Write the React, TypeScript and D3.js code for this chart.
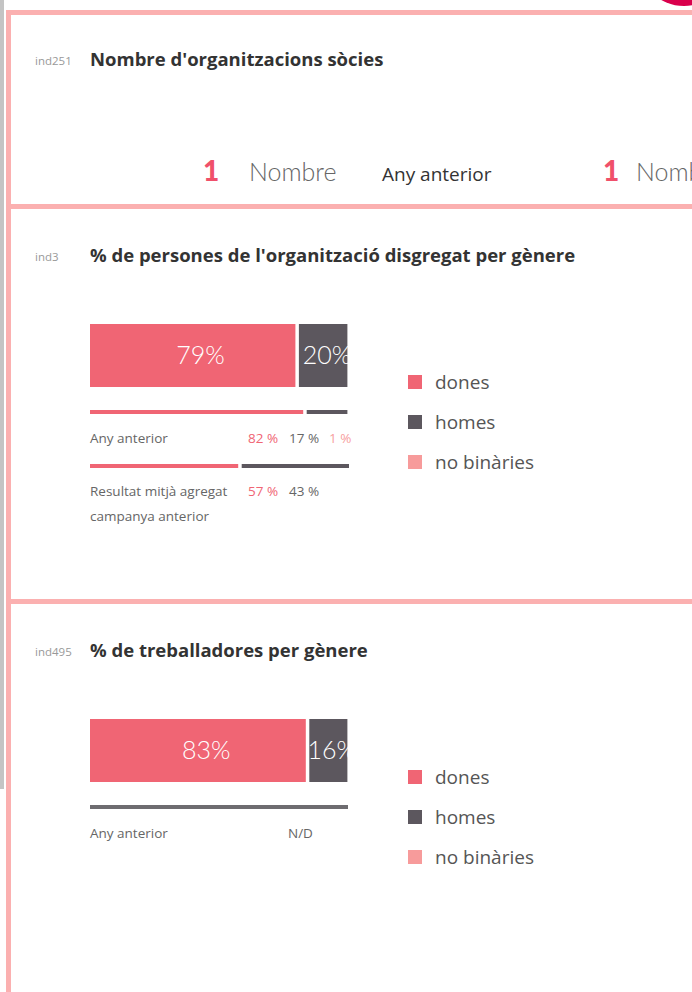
import React from "react";
import * as d3 from "d3";

const W = 692;
const H = 992;

const categories = ["dones", "homes", "no binàries"];
const catColors = ["#f06574", "#5c575e", "#f79b9b"];
const valueColors = ["#f06574", "#666666", "#f7a0a0"];

const ind251Title = "Nombre d'organitzacions sòcies";
const ind251Value = [1, 1];
const ind251Labels = ["Nombre", "Any anterior"];

const ind3Title = "% de persones de l'organització disgregat per gènere";
const ind3Current = [79, 20, 1];
const ind3Previous = [82, 17, 1];
const ind3Aggregate = [57, 43, 0];

const ind495Title = "% de treballadores per gènere";
const ind495Current = [83, 16, 1];

const FONT = "'Open Sans', Lato, sans-serif";
const LIGHT = "Lato, 'Open Sans', sans-serif";

const x = d3.scaleLinear().domain([0, 100]).range([90, 350]);
const xl = d3.scaleLinear().domain([0, 100]).range([0, 280]);
const GAP = 3.5;
const CLIP_R = 349;

function segments(vals: number[]) {
  let cum = 0;
  return vals.map((v, i) => {
    const start = x(cum) + (i > 0 ? GAP : 0);
    const end = x(cum + v);
    const s = { i, v, start, end, cum };
    cum += v;
    return s;
  });
}

function StackBar({ y, vals, id }: { y: number; vals: number[]; id: string }) {
  const segs = segments(vals);
  return (
    <g clipPath={`url(#${id})`}>
      {segs.map((s) =>
        s.v > 0 && s.end > s.start ? (
          <rect key={s.i} x={s.start} y={y} width={s.end - s.start} height={63} fill={catColors[s.i]} />
        ) : null
      )}
      {segs.map((s) =>
        s.v >= 5 ? (
          <text
            key={"t" + s.i}
            x={s.start + xl(s.v) / 2}
            y={y + 40}
            textAnchor="middle"
            fill="#ffffff"
            fontSize={25}
            fontWeight={300}
            fontFamily={LIGHT}
          >
            {s.v}%
          </text>
        ) : null
      )}
    </g>
  );
}

function ThinBar({ y, vals, id }: { y: number; vals: number[]; id: string }) {
  const segs = segments(vals);
  return (
    <g clipPath={`url(#${id})`}>
      {segs.map((s) =>
        s.v > 0 && s.end > s.start ? (
          <rect key={s.i} x={s.start} y={y} width={s.end - s.start} height={4} fill={catColors[s.i]} />
        ) : null
      )}
    </g>
  );
}

const valueCols = [248, 289, 329];

function ValueLabels({ y, vals }: { y: number; vals: number[] }) {
  return (
    <g>
      {vals.map((v, i) =>
        v > 0 ? (
          <text key={i} x={valueCols[i]} y={y} fill={valueColors[i]} fontSize={13.5} fontFamily={FONT}>
            {v} %
          </text>
        ) : null
      )}
    </g>
  );
}

function Legend({ y }: { y: number }) {
  return (
    <g>
      {categories.map((c, i) => (
        <g key={c} transform={`translate(408, ${y + i * 40})`}>
          <rect x={0} y={-7} width={14} height={14} fill={catColors[i]} />
          <text x={27} y={7} fill="#555555" fontSize={19} fontFamily={FONT}>
            {c}
          </text>
        </g>
      ))}
    </g>
  );
}

function Header({ y, code, title }: { y: number; code: string; title: string }) {
  return (
    <g>
      <text x={35} y={y} fill="#999999" fontSize={11.5} fontFamily={FONT}>
        {code}
      </text>
      <text x={90} y={y + 1} fill="#333333" fontSize={18.5} fontWeight={700} fontFamily={FONT}>
        {title}
      </text>
    </g>
  );
}

export default function App() {
  const s495 = 395;
  return (
    <svg
      width={W}
      height={H}
      style={{ position: "absolute", left: 0, top: 0, display: "block" }}
      viewBox={`0 0 ${W} ${H}`}
    >
      <defs>
        <clipPath id="c1">
          <rect x={90} y={300} width={CLIP_R - 90} height={200} />
        </clipPath>
        <clipPath id="c2">
          <rect x={90} y={695} width={CLIP_R - 90} height={200} />
        </clipPath>
      </defs>
      <rect x={0} y={0} width={W} height={H} fill="#ffffff" />
      <circle cx={684} cy={-40} r={46} fill="#d9004c" />
      <rect x={0} y={0} width={4} height={789} fill="#c4c4c4" />
      <rect x={6} y={10} width={5} height={H - 10} fill="#fbb0b0" />
      <rect x={6} y={10} width={W - 6} height={5} fill="#fbb0b0" />
      <rect x={6} y={204} width={W - 6} height={5} fill="#fbb0b0" />
      <rect x={6} y={599} width={W - 6} height={5} fill="#fbb0b0" />

      {/* ind251 */}
      <Header y={65} code="ind251" title={ind251Title} />
      <text x={203} y={181} fill="#f0506a" fontSize={28} fontWeight={900} fontFamily={LIGHT}>
        {ind251Value[0]}
      </text>
      <text x={249} y={181} fill="#666666" fontSize={25} fontWeight={300} fontFamily={LIGHT}>
        {ind251Labels[0]}
      </text>
      <text x={382} y={181} fill="#333333" fontSize={19} fontFamily={FONT}>
        {ind251Labels[1]}
      </text>
      <text x={603} y={181} fill="#f0506a" fontSize={28} fontWeight={900} fontFamily={LIGHT}>
        {ind251Value[1]}
      </text>
      <text x={636} y={181} fill="#666666" fontSize={25} fontWeight={300} fontFamily={LIGHT}>
        {ind251Labels[0]}
      </text>

      {/* ind3 */}
      <Header y={261} code="ind3" title={ind3Title} />
      <StackBar y={324} vals={ind3Current} id="c1" />
      <ThinBar y={410} vals={ind3Previous} id="c1" />
      <text x={90} y={443} fill="#666666" fontSize={13.5} fontFamily={FONT}>
        Any anterior
      </text>
      <ValueLabels y={443} vals={ind3Previous} />
      <ThinBar y={464} vals={ind3Aggregate} id="c1" />
      <text x={90} y={496} fill="#666666" fontSize={13.5} fontFamily={FONT}>
        Resultat mitjà agregat
      </text>
      <ValueLabels y={496} vals={ind3Aggregate} />
      <text x={90} y={521} fill="#666666" fontSize={13.5} fontFamily={FONT}>
        campanya anterior
      </text>
      <Legend y={382} />

      {/* ind495 */}
      <Header y={261 + s495} code="ind495" title={ind495Title} />
      <StackBar y={324 + s495} vals={ind495Current} id="c2" />
      <rect x={90} y={410 + s495} width={CLIP_R - 90 - 1} height={4} fill="#6e6c70" />
      <text x={90} y={443 + s495} fill="#666666" fontSize={13.5} fontFamily={FONT}>
        Any anterior
      </text>
      <text x={valueCols[1] - 1} y={443 + s495} fill="#666666" fontSize={13.5} fontFamily={FONT}>
        N/D
      </text>
      <Legend y={382 + s495} />
    </svg>
  );
}
